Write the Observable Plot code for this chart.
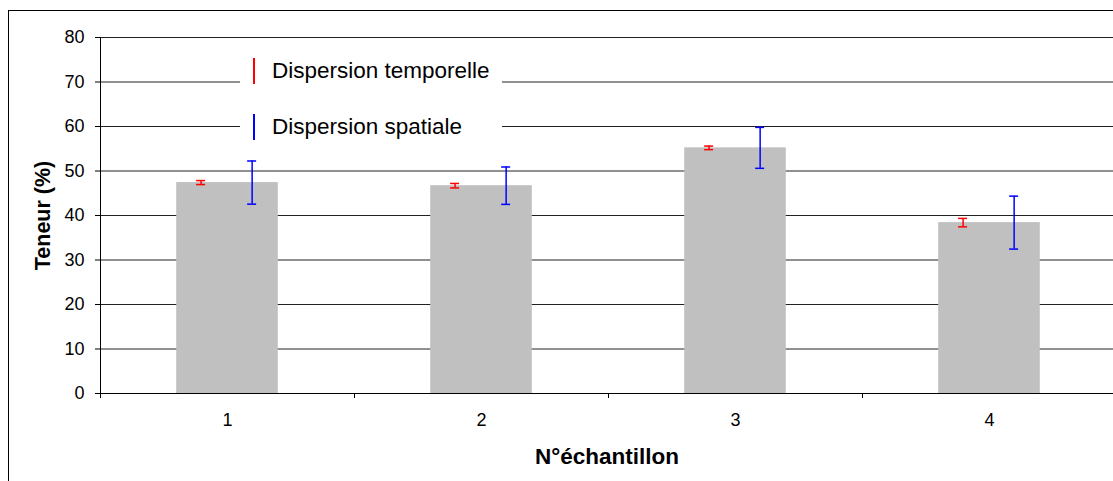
<!DOCTYPE html>
<html>
<head>
<meta charset="utf-8">
<script src="https://cdn.jsdelivr.net/npm/d3@7"></script>
<script src="https://cdn.jsdelivr.net/npm/@observablehq/plot@0.6"></script>
<style>
  html, body { margin: 0; padding: 0; background: #fff; }
  body { width: 1113px; height: 481px; position: relative; overflow: hidden; font-family: "Liberation Sans", Arial, sans-serif; }
  #chart { position: absolute; left: 0; top: 0; }
  #border { position: absolute; left: 8px; top: 10px; width: 1200px; height: 600px; border-left: 1px solid #000; border-top: 1px solid #000; pointer-events: none; }
  #legend { position: absolute; left: 240px; top: 52px; width: 262px; height: 92px; background: #fff; font-size: 22.5px; color: #000; }
  .row { position: absolute; left: 0; height: 26px; }
  .sw { position: absolute; left: 13px; top: 0; width: 2px; height: 26px; }
  .lab { position: absolute; left: 32px; top: 0; line-height: 26px; white-space: nowrap; }
</style>
</head>
<body>
<div id="chart"></div>
<div id="border"></div>
<div id="legend">
  <div class="row" style="top:6px"><div class="sw" style="background:#ff0000"></div><div class="lab">Dispersion temporelle</div></div>
  <div class="row" style="top:62px"><div class="sw" style="background:#0000ff"></div><div class="lab">Dispersion spatiale</div></div>
</div>
<script>
const samples = [1, 2, 3, 4];
const teneur = [47.4, 46.7, 55.2, 38.4];
const errTemporelle = [0.45, 0.5, 0.4, 0.95];
const errSpatiale = [4.85, 4.2, 4.6, 5.95];
const yTicks = [0, 10, 20, 30, 40, 50, 60, 70, 80];
const gridTicks = [10, 20, 30, 40, 50, 60, 70, 80];
const boundaries = [0.5, 1.5, 2.5, 3.5];

const data = samples.map((s, i) => ({
  s, v: teneur[i],
  tLo: teneur[i] - errTemporelle[i], tHi: teneur[i] + errTemporelle[i],
  sLo: teneur[i] - errSpatiale[i], sHi: teneur[i] + errSpatiale[i]
}));

const font = "Liberation Sans, Arial, sans-serif";

const chart = Plot.plot({
  width: 1113,
  height: 481,
  marginLeft: 100,
  marginRight: 0,
  marginTop: 37,
  marginBottom: 88,
  style: { fontFamily: font, fontSize: "18px", background: "#fff", overflow: "visible" },
  x: { type: "linear", domain: [0.5, 4.5], range: [100, 1116] },
  y: { domain: [0, 80] },
  marks: [
    Plot.ruleY(gridTicks, { stroke: "#222", strokeWidth: 1 }),
    Plot.rectY(data, { x1: d => d.s - 0.2, x2: d => d.s + 0.2, y1: 0, y2: "v", fill: "#c0c0c0" }),
    // temporal error bars
    Plot.ruleX(data, { x: d => d.s - 0.104, y1: "tLo", y2: "tHi", stroke: "#ff0000", strokeWidth: 1.5 }),
    Plot.ruleY(data, { x1: d => d.s - 0.104, x2: d => d.s - 0.104, y: "tLo", insetLeft: -4.5, insetRight: -4.5, stroke: "#ff0000", strokeWidth: 1.5 }),
    Plot.ruleY(data, { x1: d => d.s - 0.104, x2: d => d.s - 0.104, y: "tHi", insetLeft: -4.5, insetRight: -4.5, stroke: "#ff0000", strokeWidth: 1.5 }),
    // spatial error bars
    Plot.ruleX(data, { x: d => d.s + 0.097, y1: "sLo", y2: "sHi", stroke: "#0000ff", strokeWidth: 1.5 }),
    Plot.ruleY(data, { x1: d => d.s + 0.097, x2: d => d.s + 0.097, y: "sLo", insetLeft: -4.5, insetRight: -4.5, stroke: "#0000ff", strokeWidth: 1.5 }),
    Plot.ruleY(data, { x1: d => d.s + 0.097, x2: d => d.s + 0.097, y: "sHi", insetLeft: -4.5, insetRight: -4.5, stroke: "#0000ff", strokeWidth: 1.5 }),
    // axes lines
    Plot.frame({ anchor: "left", stroke: "#000" }),
    Plot.ruleY([0], { stroke: "#000", strokeWidth: 1 }),
    Plot.axisY({ ticks: yTicks, tickSize: 5, tickPadding: 11, fontSize: 18, label: null, stroke: "#000", color: "#000" }),
    Plot.axisX({ ticks: boundaries, tickSize: 5, tickFormat: () => "", label: null, stroke: "#000" }),
    Plot.axisX({ ticks: samples, tickSize: 0, tickPadding: 20, fontSize: 18, tickFormat: d3.format("d"), label: null, color: "#000" }),
    Plot.text(["Teneur (%)"], { frameAnchor: "left", dx: -57, rotate: -90, text: d => d, fontSize: 21.5, fontWeight: "bold", textAnchor: "middle", lineAnchor: "middle", fill: "#000" }),
    Plot.text(["N°échantillon"], { frameAnchor: "bottom", dy: 63, text: d => d, fontSize: 22.5, fontWeight: "bold", textAnchor: "middle", lineAnchor: "middle", fill: "#000" })
  ]
});
document.getElementById("chart").appendChild(chart);
</script>
</body>
</html>
